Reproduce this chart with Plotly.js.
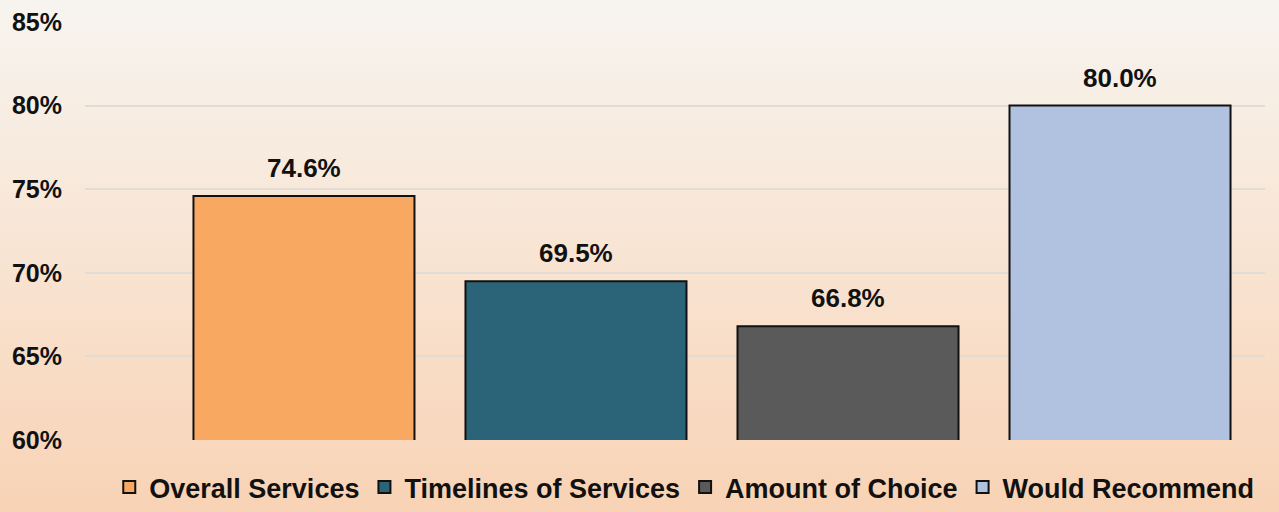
<!DOCTYPE html>
<html>
<head>
<meta charset="utf-8">
<script src="https://cdn.plot.ly/plotly-3.0.1.min.js"></script>
<style>
html,body{margin:0;padding:0;}
#chart{width:1279px;height:512px;background:linear-gradient(to bottom,#f7f4ef 0%,#f8e6d6 45%,#f8d3b5 100%);}
</style>
</head>
<body>
<div id="chart"></div>
<script>
const categories = ["Overall Services", "Timelines of Services", "Amount of Choice", "Would Recommend"];
const values = [74.6, 69.5, 66.8, 80.0];
const labels = ["74.6%", "69.5%", "66.8%", "80.0%"];
const colors = ["#f9a862", "#2b6478", "#5a5a5a", "#b0c2df"];
const tickVals = [60, 65, 70, 75, 80, 85];
const tickText = ["60%", "65%", "70%", "75%", "80%", "85%"];

const traces = categories.map((c, i) => ({
  type: "bar",
  name: c,
  x: [c],
  y: [values[i]],
  width: 0.8125,
  marker: {color: colors[i], line: {color: "#111", width: 2}},
  hoverinfo: "none"
}));

const annotations = categories.map((c, i) => ({
  x: c, y: values[i], xref: "x", yref: "y",
  text: labels[i], showarrow: false, yanchor: "bottom", yshift: 11,
  font: {family: "Liberation Sans, Arial", size: 26, color: "#111", weight: "bold"}
}));

const layout = {
  width: 1279, height: 512,
  paper_bgcolor: "rgba(0,0,0,0)", plot_bgcolor: "rgba(0,0,0,0)",
  margin: {l: 85, r: 14, t: 22, b: 72},
  barmode: "overlay",
  showlegend: true,
  xaxis: {type: "category", categoryarray: categories, range: [-0.805, 3.533],
    showticklabels: false, showgrid: false, zeroline: false, showline: false, fixedrange: true},
  yaxis: {range: [60, 85], tickvals: tickVals, ticktext: tickText,
    showgrid: true, gridcolor: "#e2dcd6", gridwidth: 2, zeroline: false, showline: false,
    ticks: "outside", ticklen: 17, tickcolor: "rgba(0,0,0,0)",
    tickfont: {family: "Liberation Sans, Arial", size: 25, color: "#111", weight: "bold"}},
  legend: {orientation: "h", xref: "container", x: 0.535, xanchor: "center",
    yref: "container", y: 0, yanchor: "bottom", bgcolor: "rgba(0,0,0,0)",
    font: {family: "Liberation Sans, Arial", size: 27, color: "#111", weight: "bold"},
    itemwidth: 30, traceorder: "normal"},
  annotations: annotations
};

Plotly.newPlot("chart", traces, layout, {displayModeBar: false, staticPlot: true});
</script>
</body>
</html>
